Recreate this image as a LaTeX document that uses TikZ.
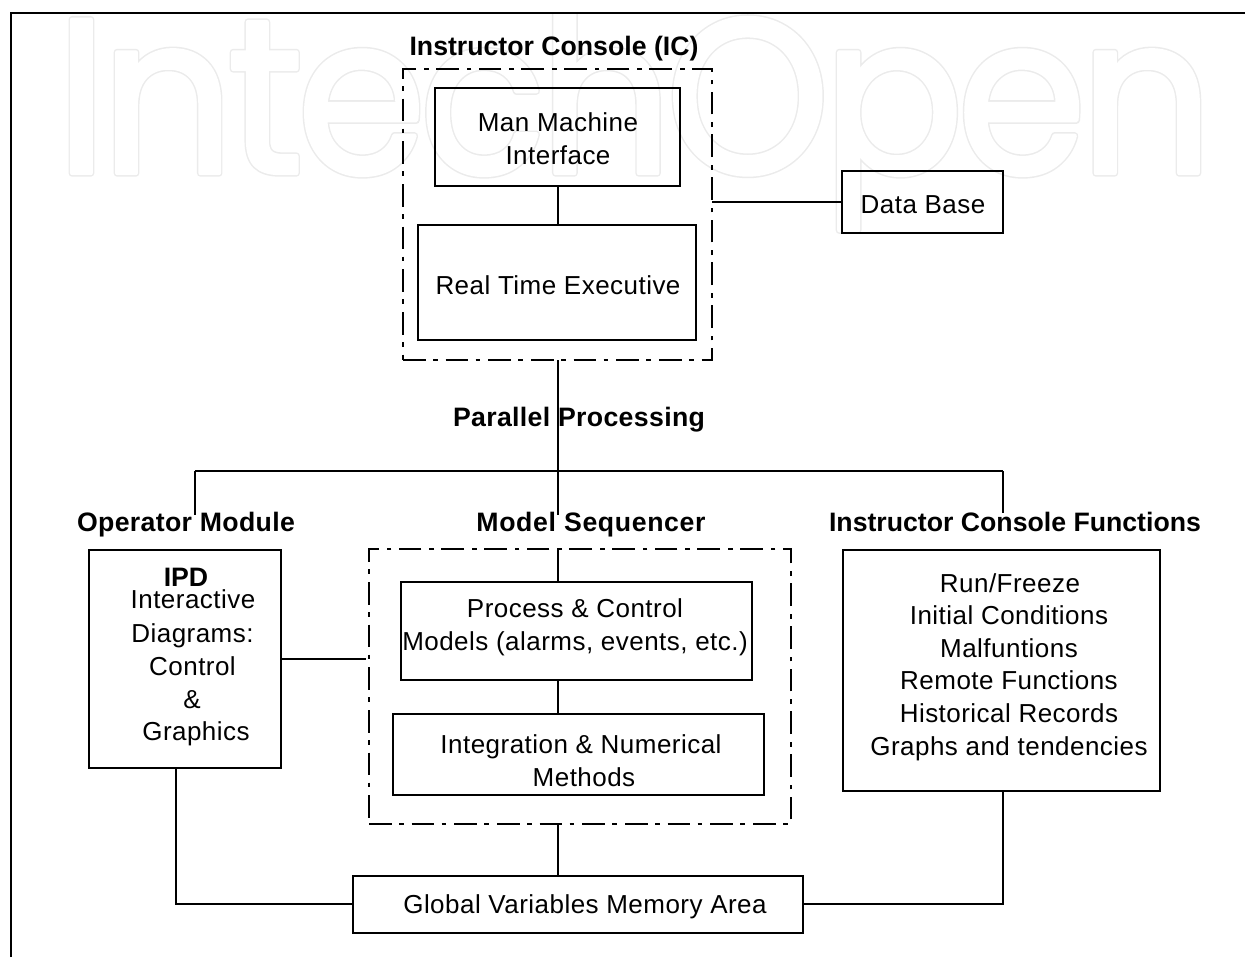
\documentclass[tikz,border=0pt]{standalone}
\usepackage{fontspec}
\setmainfont{Liberation Sans}[LetterSpace=1.8]
\newfontfamily\headfont{Liberation Sans}[BoldFont={Liberation Sans Bold}]
\newfontfamily\headwide{Liberation Sans Bold}[LetterSpace=1.3]
\newfontfamily\headwider{Liberation Sans Bold}[LetterSpace=2.4]
\newfontfamily\wmfont{Poppins}[LetterSpace=-3]
\newcommand{\wmtext}[3]{\special{pdf:code q #1 G #2 g 2 Tr #3 w 1 j}IntechOpen\special{pdf:code Q}}
\tikzset{
  x=0.75pt,y=-0.75pt,
  every node/.style={inner sep=0pt,outer sep=0pt,font=\fontsize{19.5}{24.75}\selectfont,align=center,text=black,anchor=base},
  solidbox/.style={draw=black,line width=1.5pt,anchor=north west},
  group/.style={draw=black,line width=1.5pt,anchor=north west,dash pattern=on 17pt off 5.5pt on 3.5pt off 6pt},
  link/.style={draw=black,line width=1.5pt},
  heading/.style={font=\fontsize{20}{24}\selectfont\headfont\bfseries},
  headingw/.style={font=\fontsize{20}{24}\selectfont\headwide},
  headingx/.style={font=\fontsize{20}{24}\selectfont\headwider},
  wm/.style={font=\fontsize{165}{165}\wmfont,anchor=base west,xscale=0.944,transform shape},
}
\newcommand{\boxat}[6]{\node[#1,minimum width=#4*0.75pt,minimum height=#5*0.75pt] (#6) at (#2,#3) {};}
\begin{document}
\begin{tikzpicture}
\useasboundingbox (0,0) rectangle (1245,957);
\begin{scope}
\clip (0,14) rectangle (1245,300);
\node[wm] (markout) at (56,173) {\wmtext{0.92}{0.92}{5.5}};
\node[wm] (markin) at (56,173) {\wmtext{1}{1}{3.2}};
\end{scope}
\draw[line width=1.9pt] (11,957) |- (1245,13);
\coordinate (spine) at (558,0);
\coordinate (ol) at (195,471);
\coordinate (fr) at (1003,471);
\coordinate (spineend) at (558,515);
\coordinate (olend) at (195,515);
\coordinate (frend) at (1003,513);
\coordinate (busy) at (0,904);
\coordinate (ipdy) at (0,659);
\coordinate (ipdx) at (176,0);
\coordinate (msgap) at (366,659);
\boxat{group}{403}{69}{309}{291}{ic}
\boxat{solidbox}{435}{88}{245}{98}{mmi}
\boxat{solidbox}{418}{225}{278}{115}{rte}
\boxat{solidbox}{842}{171}{161}{62}{db}
\boxat{solidbox}{89}{550}{192}{218}{ipd}
\boxat{group}{369}{549}{422}{275}{ms}
\boxat{solidbox}{401}{582}{351}{98}{pc}
\boxat{solidbox}{393}{714}{371}{81}{im}
\boxat{solidbox}{843}{550}{317}{241}{icf}
\boxat{solidbox}{353}{876}{450}{57}{gv}
\draw[link] (mmi.south -| spine) -- (rte.north -| spine);
\draw[link] (db.west) -- (db.west -| ic.east);
\draw[link] (ic.south -| spine) -- (spineend);
\draw[link] (ms.north -| spine) -- (pc.north -| spine);
\draw[link] (pc.south -| spine) -- (im.north -| spine);
\draw[link] (ms.south -| spine) -- (gv.north -| spine);
\draw[link] (ol) -- (fr);
\draw[link] (ol) -- (olend);
\draw[link] (fr) -- (frend);
\draw[link] (ipd.east |- ipdy) -- (msgap);
\draw[link] (ipd.south -| ipdx) |- (gv.west |- busy);
\draw[link] (gv.east |- busy) -| (icf.south -| fr);
\node[heading] (t1) at (554,55) {Instructor Console (IC)};
\node (t2) at (558,131) {Man Machine};
\node (t3) at (558,164) {Interface};
\node (t4) at (558,294) {Real Time Executive};
\node (t5) at (923,213) {Data Base};
\node[headingw] (t6) at (579,426) {Parallel Processing};
\node[headingw] (t7) at (186,531) {Operator Module};
\node[headingx] (t8) at (591,531) {Model Sequencer};
\node[heading] (t9) at (1015,531) {Instructor Console Functions};
\node[heading] (t10) at (186,586) {IPD};
\node (t11) at (193,608) {Interactive};
\node (t12) at (192.5,642) {Diagrams:};
\node (t13) at (192.5,675) {Control};
\node (t14) at (192,708) {\&};
\node (t15) at (196,740) {Graphics};
\node (t16) at (575,617) {Process \& Control};
\node (t17) at (575,650) {Models (alarms, events, etc.)};
\node (t18) at (581,753) {Integration \& Numerical};
\node (t19) at (584,786) {Methods};
\node (t20) at (1010,592) {Run/Freeze};
\node (t21) at (1009,624) {Initial Conditions};
\node (t22) at (1009,657) {Malfuntions};
\node (t23) at (1009,689) {Remote Functions};
\node (t24) at (1009,722) {Historical Records};
\node (t25) at (1009,755) {Graphs and tendencies};
\node (t26) at (585,913) {Global Variables Memory Area};
\end{tikzpicture}
\end{document}
